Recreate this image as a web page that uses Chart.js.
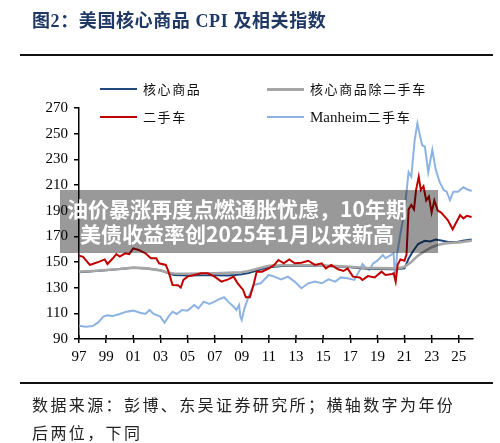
<!DOCTYPE html>
<html>
<head>
<meta charset="utf-8">
<script src="https://cdn.jsdelivr.net/npm/chart.js@4"></script>
<style>
  body { margin: 0; background: #fff; }
  #wrap { position: relative; width: 500px; height: 443px; overflow: hidden; }
  #chart { position: absolute; left: 0; top: 0; }
  .title { position: absolute; left: 32px; top: 6px; font: bold 18px "Liberation Serif", "Noto Sans CJK SC"; color: #1f3864; letter-spacing: 0.6px; white-space: nowrap; }
  .rule { position: absolute; left: 20px; width: 473px; height: 2px; background: #111; }
  .src { position: absolute; left: 32px; top: 390px; font: 16px "Noto Sans CJK SC"; color: #222; letter-spacing: 2.4px; line-height: 28px; }
  .leg { position: absolute; font: 13px "Liberation Serif", "Noto Sans CJK SC"; color: #111; letter-spacing: 1.6px; white-space: nowrap; }
  .leg i { position: absolute; left: -43px; top: 9px; width: 37px; height: 2px; }
  .leg .lat { font-size: 15px; letter-spacing: 0; }
  .banner { position: absolute; left: 60px; top: 190px; width: 354px; padding-right: 24px;
    background: rgba(0,0,0,0.4); color: #fff; font: bold 21px "Noto Sans CJK SC"; line-height: 25px;
    text-align: center; padding-top: 6px; height: 57px; white-space: nowrap; }
</style>
</head>
<body>
<div id="wrap">
  <canvas id="chart" width="500" height="443"></canvas>
  <div class="title">图2：美国核心商品 CPI 及相关指数</div>
  <div class="rule" style="top:54px"></div>
  <div class="leg" style="left:143px; top:79px"><i style="background:#1f497d"></i>核心商品</div>
  <div class="leg" style="left:310px; top:79px"><i style="background:#a6a6a6; height:3px"></i>核心商品除二手车</div>
  <div class="leg" style="left:143px; top:107px"><i style="background:#c00000"></i>二手车</div>
  <div class="leg" style="left:310px; top:107px"><i style="background:#8db3e2"></i><span class="lat">Manheim</span>二手车</div>
  <div class="banner">油价暴涨再度点燃通胀忧虑，10年期<br>美债收益率创2025年1月以来新高</div>
  <div class="rule" style="top:382px"></div>
  <div class="src">数据来源：彭博、东吴证券研究所；横轴数字为年份<br>后两位，下同</div>
</div>
<script>
// x axis: years, labels are last two digits
const tickYears = [1997, 1999, 2001, 2003, 2005, 2007, 2009, 2011, 2013, 2015, 2017, 2019, 2021, 2023, 2025];

// 核心商品
const coreYears = [1997, 1998, 1999, 2000, 2001, 2002, 2003, 2003.5, 2004, 2005, 2006, 2007, 2008, 2008.5, 2009, 2009.5, 2010, 2010.5, 2011, 2012, 2013, 2014, 2015, 2016, 2017, 2018, 2019, 2020, 2020.5, 2021, 2021.3, 2021.6, 2022, 2022.5, 2022.9, 2023.3, 2023.8, 2024.3, 2024.8, 2025.3, 2025.95];
const coreVals = [142, 142.8, 143.5, 144.5, 145.5, 145, 143.5, 141.5, 139.8, 139.5, 139.6, 139.7, 139.5, 139.8, 140.5, 141.5, 143, 144.5, 146, 146.8, 147, 147, 147, 146.5, 146, 145, 144.5, 144.3, 144.5, 145, 152.5, 158, 164, 166.5, 166, 167.5, 166.5, 165.5, 165.5, 166.5, 167.5];

// 核心商品除二手车
const exYears = [1997, 1998, 1999, 2000, 2001, 2002, 2003, 2003.5, 2004, 2005, 2006, 2007, 2008, 2009, 2009.5, 2010, 2010.5, 2011, 2012, 2013, 2014, 2015, 2016, 2017, 2018, 2019, 2020, 2020.5, 2021, 2021.5, 2022, 2022.5, 2023, 2023.5, 2024, 2024.5, 2025, 2025.5, 2025.95];
const exVals = [142.5, 143, 143.8, 144.5, 145.6, 145, 143.5, 141.8, 141, 140.8, 141, 141.2, 141.5, 142, 143, 144.3, 145.8, 147, 147.5, 147.5, 147.5, 147.2, 146.8, 146.3, 145.5, 145.2, 145, 145, 146.2, 150, 155, 158.5, 161.5, 163.5, 164.5, 165, 165.3, 166, 166.5];

// 二手车
const usedYears = [1997, 1997.3, 1997.8, 1998, 1998.5, 1998.9, 1999.1, 1999.5, 1999.75, 2000, 2000.4, 2000.7, 2001, 2001.4, 2001.9, 2002.3, 2002.7, 2002.9, 2003.4, 2003.6, 2003.9, 2004.3, 2004.5, 2004.7, 2005, 2005.5, 2006, 2006.5, 2007, 2007.5, 2008, 2008.4, 2008.7, 2009.1, 2009.3, 2009.6, 2009.9, 2010.1, 2010.5, 2011, 2011.4, 2011.7, 2012.1, 2012.5, 2012.9, 2013.4, 2013.9, 2014.4, 2014.9, 2015.2, 2015.6, 2016.1, 2016.5, 2016.8, 2017.2, 2017.7, 2017.9, 2018.3, 2018.8, 2019.3, 2019.6, 2020.1, 2020.2, 2020.35, 2020.5, 2020.7, 2021, 2021.15, 2021.3, 2021.5, 2021.7, 2021.85, 2022.05, 2022.2, 2022.4, 2022.6, 2022.8, 2023, 2023.2, 2023.45, 2023.7, 2024, 2024.2, 2024.55, 2024.85, 2025.1, 2025.35, 2025.6, 2025.95];
const usedVals = [155, 154, 147.7, 148.4, 150.3, 152, 148.4, 152.9, 156.2, 154.2, 156.8, 156.2, 160.6, 159.4, 156.8, 152.9, 152.9, 149, 147.7, 142.5, 132, 131.8, 130, 136, 138.6, 139.9, 141.2, 141.2, 138.6, 134.7, 136.5, 138.6, 133.4, 128.2, 122.5, 122.5, 133.4, 142.5, 142.5, 145, 147.7, 151.6, 149, 152, 149, 149.5, 151, 147.7, 149, 145, 147.7, 144.3, 143, 145, 138.6, 138, 136, 139, 138, 142.5, 139.9, 140.7, 141.2, 134.7, 148, 152, 151, 156, 191, 194.5, 191, 206, 216.5, 206, 209, 198, 201, 188.5, 198, 190, 188.5, 185, 182.5, 175.5, 181.5, 186.5, 184, 186, 185];

// Manheim二手车
const manYears = [1997, 1997.5, 1998, 1998.4, 1998.8, 1999.1, 1999.5, 2000, 2000.5, 2001, 2001.5, 2001.9, 2002.2, 2002.5, 2003, 2003.3, 2003.6, 2003.9, 2004.2, 2004.6, 2005, 2005.5, 2005.8, 2006.2, 2006.6, 2007, 2007.3, 2007.7, 2008, 2008.4, 2008.6, 2008.8, 2008.9, 2009, 2009.2, 2009.5, 2009.9, 2010.4, 2011, 2011.4, 2011.9, 2012.4, 2012.9, 2013.4, 2013.9, 2014.4, 2014.9, 2015.4, 2015.9, 2016.3, 2016.8, 2017.3, 2017.7, 2017.9, 2018.2, 2018.4, 2018.7, 2019, 2019.4, 2019.6, 2020, 2020.2, 2020.3, 2020.45, 2020.7, 2021, 2021.3, 2021.5, 2021.75, 2021.95, 2022.15, 2022.3, 2022.5, 2022.75, 2023.05, 2023.3, 2023.6, 2023.9, 2024.1, 2024.35, 2024.6, 2024.95, 2025.2, 2025.35, 2025.6, 2025.95];
const manVals = [100.4, 99.6, 100.1, 102.7, 107.4, 108.4, 107.9, 109.5, 111.3, 112.1, 110.5, 109.5, 112.6, 109.5, 107.4, 102.7, 107.4, 111.3, 109.5, 112.6, 112.1, 116.5, 113.9, 119.1, 117.3, 119.1, 120.9, 122.5, 119.1, 115.2, 112.6, 116.5, 107.4, 104.8, 113.9, 123, 132.1, 133.4, 139.9, 138.6, 136.5, 138.6, 134.7, 129.5, 133.4, 134.7, 133.4, 136.5, 134.7, 138, 137.3, 136, 143.8, 148.4, 145, 143.8, 149, 151, 155.5, 152.9, 155.5, 156.8, 135.5, 156, 172, 190, 220, 216.5, 245, 258, 248, 241, 240, 220, 237.5, 222, 212, 206, 205, 198.3, 204.8, 204.8, 207, 208.2, 206.7, 205.3];

function pts(xs, ys) {
  return xs.map((x, i) => ({ x: x, y: ys[i] }));
}

// x ticks cross the axis line a little
const crossTicks = {
  id: 'crossTicks',
  afterDraw(chart) {
    const c = chart.ctx;
    const x = chart.scales.x;
    c.save();
    c.strokeStyle = '#000';
    c.lineWidth = 1.5;
    tickYears.forEach(v => {
      const px = x.getPixelForValue(v);
      c.beginPath();
      c.moveTo(px, x.top - 4);
      c.lineTo(px, x.top);
      c.stroke();
    });
    c.restore();
  }
};

const serif = { family: '"Liberation Serif", "Times New Roman", serif', size: 15 };

new Chart(document.getElementById('chart').getContext('2d'), {
  type: 'line',
  data: {
    datasets: [
      { label: '核心商品', data: pts(coreYears, coreVals), borderColor: '#1f497d', borderWidth: 2, order: 3 },
      { label: '核心商品除二手车', data: pts(exYears, exVals), borderColor: '#a6a6a6', borderWidth: 2.6, order: 2 },
      { label: '二手车', data: pts(usedYears, usedVals), borderColor: '#c00000', borderWidth: 2, order: 1 },
      { label: 'Manheim二手车', data: pts(manYears, manVals), borderColor: '#8db3e2', borderWidth: 2, order: 4 },
    ],
  },
  options: {
    responsive: false,
    animation: false,
    layout: { padding: { left: 0, top: 108, right: 27, bottom: 74 } },
    elements: { point: { radius: 0 }, line: { tension: 0 } },
    plugins: { legend: { display: false }, tooltip: { enabled: false } },
    scales: {
      x: {
        type: 'linear',
        min: 1997,
        max: 2026.05,
        afterBuildTicks: s => { s.ticks = tickYears.map(v => ({ value: v })); },
        afterFit: s => { s.height = 30; },
        border: { color: '#000', width: 1.5 },
        grid: { drawOnChartArea: false, drawTicks: true, tickLength: 4, color: '#000', lineWidth: 1.5 },
        ticks: { callback: v => String(v).slice(2), font: serif, color: '#000', padding: 5, maxRotation: 0, autoSkip: false },
      },
      y: {
        min: 90,
        max: 270,
        afterFit: s => { s.width = 79; },
        border: { color: '#000', width: 1.5 },
        grid: { drawOnChartArea: false, drawTicks: true, tickLength: 5, color: '#000', lineWidth: 1.5 },
        ticks: { stepSize: 20, font: serif, color: '#000', padding: 6 },
      },
    },
  },
  plugins: [crossTicks],
});
</script>
</body>
</html>
